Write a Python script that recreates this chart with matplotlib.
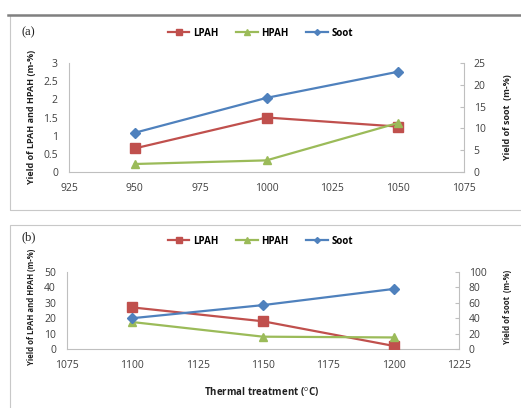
import matplotlib
matplotlib.use('Agg')
import matplotlib.pyplot as plt
from matplotlib.patches import Rectangle
from matplotlib.lines import Line2D

plt.rcParams['font.family'] = ['Open Sans', 'DejaVu Sans']
plt.rcParams['mathtext.fontset'] = 'custom'
plt.rcParams['mathtext.rm'] = 'Open Sans'
plt.rcParams['mathtext.it'] = 'Open Sans'

# panel (a)
temp_a = [950, 1000, 1050]
lpah_a = [0.65, 1.5, 1.25]
hpah_a = [0.22, 0.32, 1.35]
soot_a = [9, 17, 23]

# panel (b)
temp_b = [1100, 1150, 1200]
lpah_b = [27, 18, 2]
hpah_b = [17.5, 8, 7.5]
soot_b = [40, 57, 78]

red = '#C0504D'
green = '#9BBB59'
blue = '#4F81BD'
grey = '#BFBFBF'
txt = '#404040'

W, H = 521, 408
fig = plt.figure(figsize=(W / 100, H / 100), dpi=100)

# panel frames
fig.patches.append(Rectangle((10 / W, 1 - 210 / H), 1, 195 / H, transform=fig.transFigure,
                             fill=False, edgecolor='#C8C8C8', lw=0.8))
fig.lines.append(Line2D([8 / W, 1], [1 - 15 / H, 1 - 15 / H], transform=fig.transFigure,
                        color='#808080', lw=1.8))
fig.patches.append(Rectangle((10 / W, -0.05), 1, 0.05 + 1 - 225 / H, transform=fig.transFigure,
                             fill=False, edgecolor='#C8C8C8', lw=0.8))


def panel(rect, x, lp, hp, so, xlim, xticks, ylim, yticks, y2lim, y2ticks, tag, ylabel_y,
          leg_y, tag_y, lab_size):
    ax = fig.add_axes(rect)
    ax2 = ax.twinx()
    ax.plot(x, lp, color=red, lw=1.6, marker='s', ms=7, zorder=3)
    ax.plot(x, hp, color=green, lw=1.6, marker='^', ms=6, zorder=3)
    ax2.plot(x, so, color=blue, lw=1.6, marker='D', ms=5, zorder=3)
    ax.set_xlim(*xlim)
    ax.set_xticks(xticks)
    ax.set_ylim(*ylim)
    ax.set_yticks(yticks)
    ax2.set_ylim(*y2lim)
    ax2.set_yticks(y2ticks)
    ax.set_yticklabels([f'{v:g}' for v in yticks])
    for a in (ax, ax2):
        for s in a.spines.values():
            s.set_visible(False)
        a.tick_params(colors=txt, labelsize=7.5)
    ax.spines['left'].set_visible(True)
    ax.spines['bottom'].set_visible(True)
    ax.spines['left'].set_color(grey)
    ax.spines['bottom'].set_color(grey)
    ax2.spines['right'].set_visible(True)
    ax2.spines['right'].set_color(grey)
    ax.tick_params(axis='both', length=0, pad=8)
    ax2.tick_params(axis='y', direction='in', length=3, color=grey, pad=7)
    fig.text(32 / W, ylabel_y, 'Yield of LPAH and HPAH (m-%)', rotation=90, ha='center',
             va='center', fontsize=lab_size, fontweight='bold', color='#202020')
    fig.text(507 / W, ylabel_y, 'Yield of soot  (m-%)', rotation=90, ha='center',
             va='center', fontsize=lab_size, fontweight='bold', color='#202020')
    fig.text(22 / W, tag_y, tag, fontsize=9, color='#202020', va='center',
             family='Liberation Serif')
    handles = [Line2D([], [], color=red, lw=1.6, marker='s', ms=4),
               Line2D([], [], color=green, lw=1.6, marker='^', ms=4),
               Line2D([], [], color=blue, lw=1.6, marker='D', ms=3)]
    fig.legend(handles, ['LPAH', 'HPAH', 'Soot'], loc='center', bbox_to_anchor=(0.5, leg_y),
               ncol=3, frameon=False, handlelength=2.2, columnspacing=1.8,
               handletextpad=0.4, prop={'weight': 'bold', 'size': 7})
    return ax


panel([69 / W, 1 - 172 / H, 395 / W, 109 / H], temp_a, lpah_a, hpah_a, soot_a,
      (925, 1075), [925, 950, 975, 1000, 1025, 1050, 1075],
      (0, 3), [0, 0.5, 1, 1.5, 2, 2.5, 3], (0, 25), [0, 5, 10, 15, 20, 25],
      '(a)', 1 - 117 / H, 1 - 33 / H, 1 - 32 / H, 6.5)

panel([67 / W, 1 - 349 / H, 392 / W, 77 / H], temp_b, lpah_b, hpah_b, soot_b,
      (1075, 1225), [1075, 1100, 1125, 1150, 1175, 1200, 1225],
      (0, 50), [0, 10, 20, 30, 40, 50], (0, 100), [0, 20, 40, 60, 80, 100],
      '(b)', 1 - 307 / H, 1 - 241 / H, 1 - 237 / H, 5.6)

fig.text(262 / W, 1 - 392 / H, 'Thermal treatment ($^{o}$C)', ha='center', va='center',
         fontsize=7, fontweight='bold', color='#202020')

fig.savefig('out.png', dpi=100)
